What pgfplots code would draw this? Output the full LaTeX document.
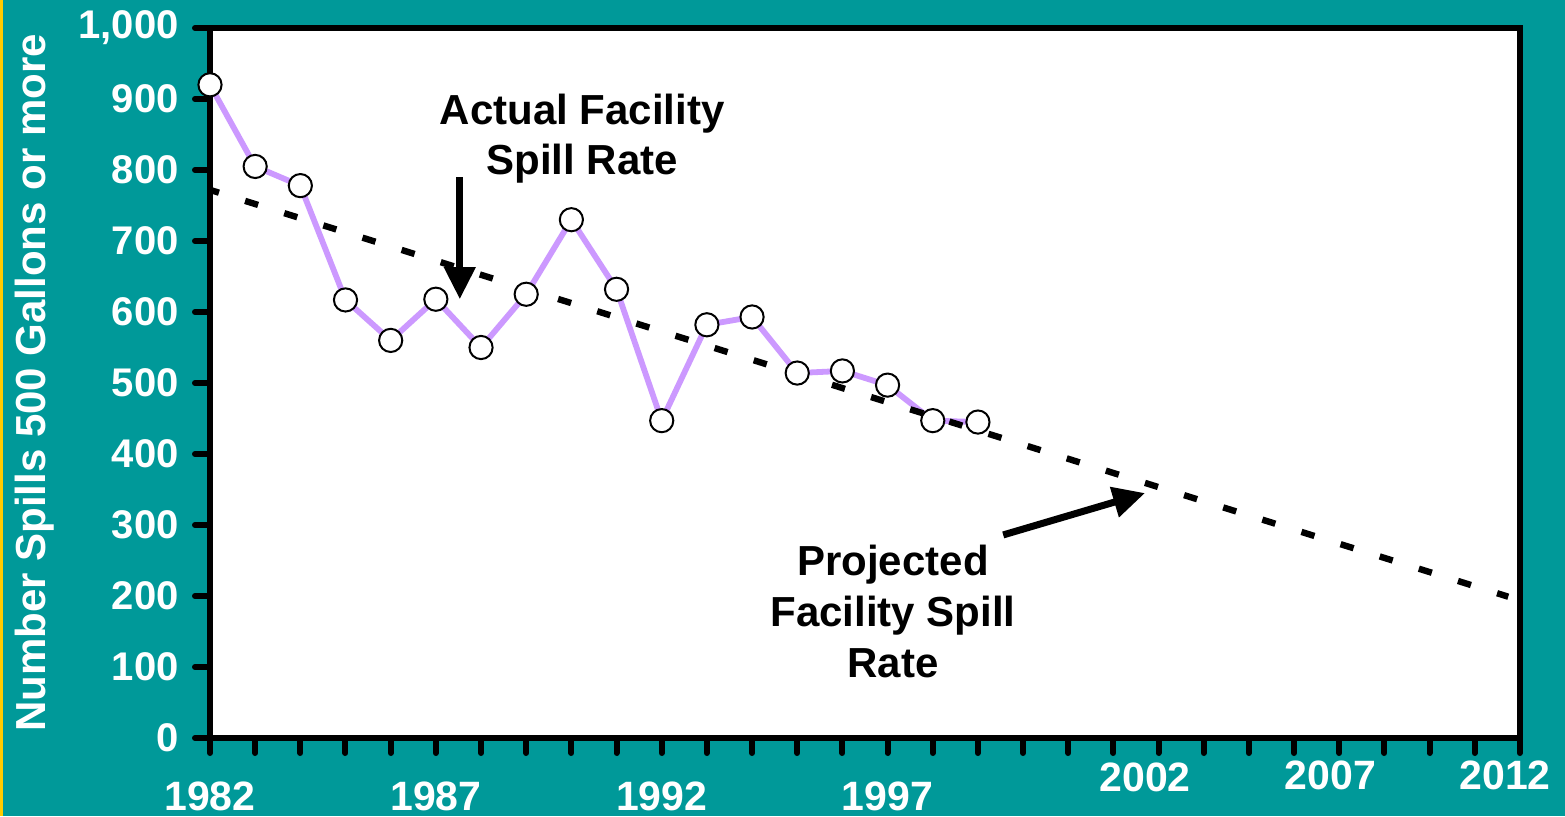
\documentclass[border=0pt]{standalone}
\usepackage{fontspec}
\setmainfont{Liberation Sans}
\usepackage{pgfplots}
\pgfplotsset{compat=1.18}
\usetikzlibrary{arrows.meta}
\definecolor{bgteal}{HTML}{009999}
\definecolor{lilac}{HTML}{CC99FF}
\definecolor{edgeyellow}{HTML}{FFCC00}

\begin{document}
\begin{tikzpicture}
\fill[bgteal] (0,0) rectangle (782.5pt,408pt);
\fill[edgeyellow] (0,0) rectangle (1.5pt,408pt);
\begin{axis}[
  at={(105pt,39pt)}, anchor=south west,
  width=655pt, height=355pt, scale only axis,
  xmin=1982, xmax=2011, ymin=0, ymax=1000,
  axis background/.style={fill=white},
  axis line style={line width=3.2pt, black},
  tick align=outside,
  xtick={1982,...,2011},
  xticklabels={1982,,,,,1987,,,,,1992,,,,,1997,,,,,,,,,,,,,,},
  ytick={0,100,...,1000},
  yticklabels={0,100,200,300,400,500,600,700,800,900,{1,000}},
  major tick length=7.5pt,
  tick style={line width=3pt, black, line cap=round},
  xtick pos=bottom, ytick pos=left,
  x tick label style={font=\fontsize{20.5}{20.5}\selectfont\bfseries, text=white, anchor=north, inner sep=0pt, yshift=-14pt},
  y tick label style={font=\fontsize{20}{20}\selectfont\bfseries, text=white, anchor=east, inner sep=0pt, xshift=-8pt},
  ylabel={Number Spills 500 Gallons or more},
  ylabel style={font=\fontsize{21}{21}\selectfont\bfseries, text=white, at={(axis description cs:-0.134,0.5)}, anchor=center},
  clip=false,
]
\addplot[color=lilac, line width=2.9pt, mark=*, mark size=5.8pt,
  mark options={fill=white, draw=black, line width=1pt}] coordinates {
  (1982,920) (1983,805) (1984,778) (1985,617) (1986,560) (1987,618)
  (1988,550) (1989,625) (1990,730) (1991,632) (1992,447) (1993,582)
  (1994,593) (1995,514) (1996,517) (1997,497) (1998,447) (1999,445)
};
\addplot[black, line width=3.2pt, dash pattern=on 6.8pt off 13.7pt, dash phase=2.1pt] coordinates {
  (1982,772) (2010.74,199)
};
\draw[-{Triangle[length=16pt,width=15pt]}, line width=3.5pt] (axis cs:1987.53,790) -- (axis cs:1987.53,618);
\draw[-{Triangle[length=16pt,width=15pt]}, line width=3.5pt] (axis cs:1999.56,286) -- (axis cs:2002.70,345);
\node[anchor=north, align=center, inner sep=0pt, font=\fontsize{21}{25}\selectfont\bfseries] at (axis cs:1990.24,907) {Actual Facility\\Spill Rate};
\node[anchor=north, align=center, inner sep=0pt, font=\fontsize{21}{25.5}\selectfont\bfseries] at (axis cs:1997.12,272) {Projected\\Facility Spill\\Rate};
\node[anchor=north, inner sep=0pt, text=white, font=\fontsize{20.5}{20.5}\selectfont\bfseries] at (axis cs:2002.70,-35) {2002};
\node[anchor=north, inner sep=0pt, text=white, font=\fontsize{20.5}{20.5}\selectfont\bfseries] at (axis cs:2006.80,-31) {2007};
\node[anchor=north, inner sep=0pt, text=white, font=\fontsize{20.5}{20.5}\selectfont\bfseries] at (axis cs:2010.67,-31) {2012};
\end{axis}
\pgfresetboundingbox
\useasboundingbox (0,0) rectangle (782.5pt,408pt);
\end{tikzpicture}
\end{document}
